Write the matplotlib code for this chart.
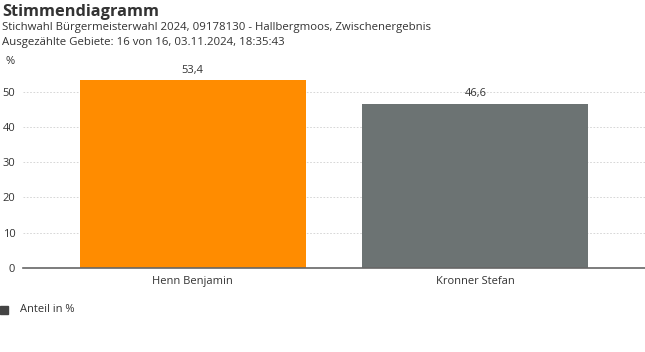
import matplotlib.pyplot as plt

candidates = ["Henn Benjamin", "Kronner Stefan"]
shares = [53.4, 46.6]
bar_colors = ["#ff8c00", "#6c7373"]
y_ticks = [0, 10, 20, 30, 40, 50]

plt.rcParams['font.family'] = ['Open Sans', 'DejaVu Sans']
text_color = "#333333"

fig = plt.figure(figsize=(6.45, 3.52), dpi=100)
W, H = 645, 352
ax = fig.add_axes([23 / W, (H - 268) / H, 622 / W, (268 - 60) / H])

x = range(len(candidates))
bars = ax.bar(x, shares, width=0.8, color=bar_colors, zorder=3)
for b, v in zip(bars, shares):
    ax.text(b.get_x() + b.get_width() / 2, v + 1.2, f"{v:.1f}".replace(".", ","),
            ha="center", va="bottom", fontsize=8, color=text_color)

ax.set_xlim(-0.6, 1.6)
ax.set_ylim(0, 59)
ax.set_yticks(y_ticks)
ax.set_xticks(list(x))
ax.set_xticklabels(candidates)
ax.tick_params(axis="y", length=0, pad=5.5, labelsize=8, labelcolor=text_color)
ax.tick_params(axis="x", length=0, pad=6, labelsize=8, labelcolor=text_color)

ax.grid(axis="y", color="#d0d0d0", linestyle=(0, (2, 2)), linewidth=0.6, zorder=0)
for s in ["top", "right", "left"]:
    ax.spines[s].set_visible(False)
ax.spines["bottom"].set_color("#666666")
ax.spines["bottom"].set_linewidth(1.2)
ax.spines["bottom"].set_zorder(4)

fig.text(2 / W, 1 - 4 / H, "Stimmendiagramm", fontsize=11.8, fontweight="bold",
         color=text_color, va="top", ha="left")
fig.text(2 / W, 1 - 22 / H,
         "Stichwahl Bürgermeisterwahl 2024, 09178130 - Hallbergmoos, Zwischenergebnis",
         fontsize=8.2, color=text_color, va="top", ha="left")
fig.text(2 / W, 1 - 37 / H, "Ausgezählte Gebiete: 16 von 16, 03.11.2024, 18:35:43",
         fontsize=8.2, color=text_color, va="top", ha="left")
fig.text(5 / W, 1 - 56 / H, "%", fontsize=8, color=text_color, va="top", ha="left")

# legend
fig.patches.append(plt.Rectangle((0, 1 - 314 / H), 8 / W, 8 / H, transform=fig.transFigure,
                                 color="#444444", figure=fig))
fig.text(20 / W, 1 - 310 / H, "Anteil in %", fontsize=8, color=text_color,
         va="center", ha="left")

fig.savefig("out.png", dpi=100)
